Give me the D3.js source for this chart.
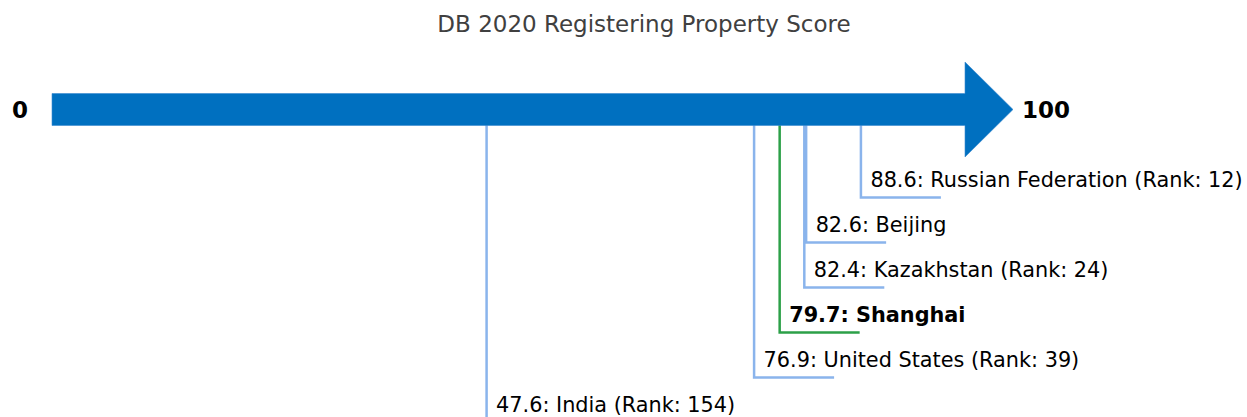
<!DOCTYPE html>
<html>
<head>
<meta charset="utf-8">
<script src="https://cdn.jsdelivr.net/npm/d3@7"></script>
<style>
  body { margin: 0; background: #fff; }
  svg { display: block; font-family: "DejaVu Sans", sans-serif; }
</style>
</head>
<body>
<svg id="chart"></svg>
<script>
const width = 1247;
const height = 417;

// données
const names = ["Russian Federation", "Beijing", "Kazakhstan", "Shanghai", "United States", "India"];
const scores = [88.6, 82.6, 82.4, 79.7, 76.9, 47.6];
const ranks = [12, null, 24, null, 39, 154];
const highlight = [false, false, false, true, false, false];
const axisLabels = [0, 100];

const data = names.map((n, i) => ({ name: n, score: scores[i], rank: ranks[i], hl: highlight[i], level: i }));

const svg = d3.select('#chart')
    .attr('width', width)
    .attr('height', height);

// échelle horizontale : 0 -> début de la flèche, 100 -> base de la pointe
const x = d3.scaleLinear().domain([0, 100]).range([52, 965]);
// niveaux des étiquettes
const y = d3.scaleLinear().domain([0, 5]).range([197.5, 422.5]);

const barTop = 93.5, barBottom = 125.5;

svg.append('text')
    .attr('x', 644)
    .attr('y', 32)
    .attr('text-anchor', 'middle')
    .style('font-size', '23px')
    .style('fill', '#404040')
    .text('DB 2020 Registering Property Score');

// lignes de repère (dessinées avant la flèche)
const marks = svg.selectAll('g.mark')
    .data(data)
    .enter().append('g')
    .attr('class', 'mark');

marks.append('path')
    .attr('d', d => `M${x(d.score)},${barBottom - 2} V${y(d.level)} H${x(d.score) + 80}`)
    .style('fill', 'none')
    .style('stroke', d => d.hl ? '#2ca048' : '#8ab4ec')
    .style('stroke-width', 2.5);

marks.append('text')
    .attr('x', d => x(d.score) + 9.5)
    .attr('y', d => y(d.level) - 11)
    .style('font-size', '20.8px')
    .style('font-weight', d => d.hl ? 'bold' : 'normal')
    .style('fill', '#000')
    .text(d => `${d.score}: ${d.name}` + (d.rank ? ` (Rank: ${d.rank})` : ''));

// la flèche
const tipX = x(100) + 48;
svg.append('path')
    .attr('d', `M${x(0)},${barTop} H${x(100)} V62 L${tipX},109.5 L${x(100)},157 V${barBottom} H${x(0)} Z`)
    .style('fill', '#0070c0')
    .style('stroke', '#3a8ad0')
    .style('stroke-width', 0.6);

svg.selectAll('text.end')
    .data(axisLabels)
    .enter().append('text')
    .attr('class', 'end')
    .attr('x', d => d === 0 ? 20 : tipX + 9)
    .attr('y', 117.5)
    .attr('text-anchor', d => d === 0 ? 'middle' : 'start')
    .style('font-size', '23px')
    .style('font-weight', 'bold')
    .text(d => d);
</script>
</body>
</html>
